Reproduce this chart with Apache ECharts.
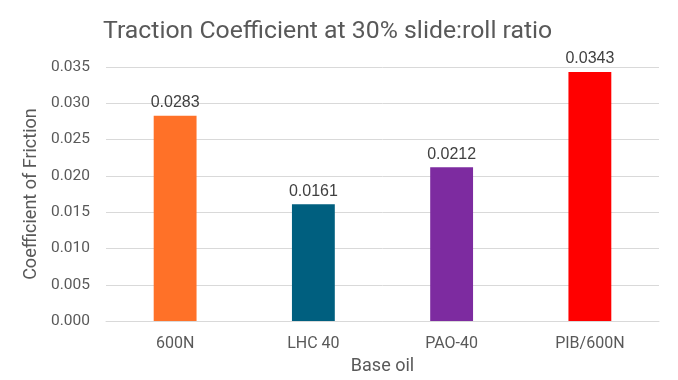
<!DOCTYPE html>
<html><head><meta charset="utf-8">
<script src="https://cdn.jsdelivr.net/npm/echarts@6/dist/echarts.min.js"></script>
<style>html,body{margin:0;padding:0;background:#fff}#c{width:678px;height:380px}</style>
</head><body><div id="c"></div>
<script>
const categories = ['600N', 'LHC 40', 'PAO-40', 'PIB/600N'];
const values = [0.0283, 0.0161, 0.0212, 0.0343];
const labels = ['0.0283', '0.0161', '0.0212', '0.0343'];
const colors = ['#FF7128', '#005F7F', '#7D2BA0', '#FF0000'];
const yTicks = [0, 0.035, 0.005];

const chart = echarts.init(document.getElementById('c'), null, {renderer: 'canvas'});
chart.setOption({
  animation: false,
  backgroundColor: '#fff',
  title: {
    text: 'Traction Coefficient at 30% slide:roll ratio',
    left: 98, top: 14,
    textStyle: {fontFamily: 'Roboto', fontSize: 24.8, fontWeight: 'normal', color: '#595959'}
  },
  grid: {left: 106, right: 19, top: 67, bottom: 57, containLabel: false},
  xAxis: {
    type: 'category', data: categories,
    name: 'Base oil', nameLocation: 'middle', nameGap: 25,
    nameTextStyle: {fontFamily: 'Roboto', fontSize: 18, color: '#595959'},
    axisLine: {lineStyle: {color: '#d9d9d9', width: 1}},
    axisTick: {show: false},
    axisLabel: {fontFamily: 'Roboto', fontSize: 16, color: '#595959', margin: 15}
  },
  yAxis: {
    type: 'value', min: yTicks[0], max: yTicks[1], interval: yTicks[2],
    name: 'Coefficient of Friction', nameLocation: 'middle', nameGap: 64,
    nameTextStyle: {fontFamily: 'Roboto', fontSize: 18, color: '#595959'},
    axisLine: {show: false}, axisTick: {show: false},
    axisLabel: {fontFamily: 'Roboto', fontSize: 15.5, color: '#595959', margin: 16,
      formatter: v => v.toFixed(3)},
    splitLine: {lineStyle: {color: '#d9d9d9', width: 1}}
  },
  series: [{
    type: 'bar', barWidth: '31%',
    data: values.map((v, i) => ({value: v, itemStyle: {color: colors[i]}, label: {formatter: labels[i]}})),
    label: {show: true, position: 'top', distance: 5,
      fontFamily: 'Liberation Sans', fontSize: 16, color: '#404040'}
  }]
});
</script></body></html>
